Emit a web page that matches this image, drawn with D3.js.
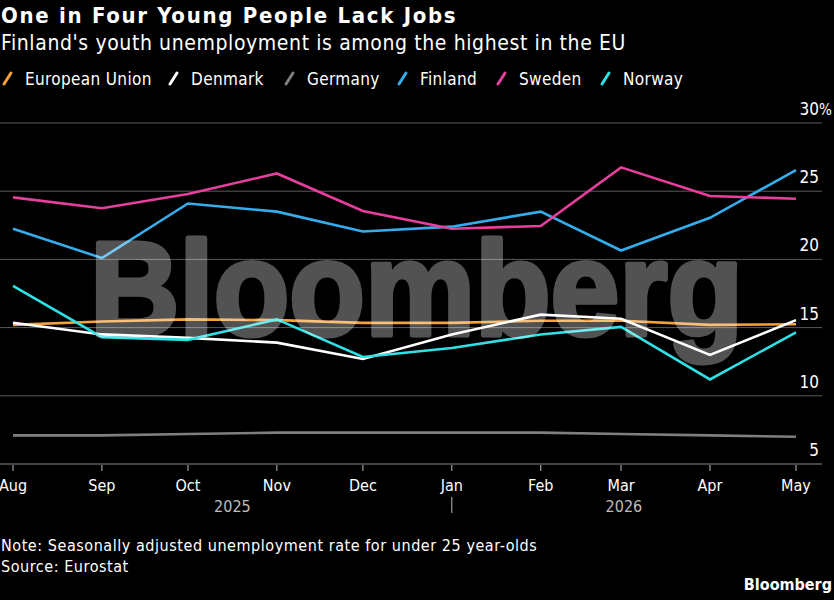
<!DOCTYPE html>
<html>
<head>
<meta charset="utf-8">
<script src="https://cdn.jsdelivr.net/npm/d3@7.9.0/dist/d3.min.js"></script>
<style>
  html, body { margin: 0; padding: 0; background: #000; }
  svg { display: block; }
  text { font-family: "DejaVu Sans Condensed", "Liberation Sans Narrow", "Roboto Condensed", sans-serif; fill: #fff; }
</style>
</head>
<body>
<svg id="chart" width="834" height="600"></svg>
<script>
const months = ["2025-08-01", "2025-09-01", "2025-10-01", "2025-11-01", "2025-12-01",
  "2026-01-01", "2026-02-01", "2026-03-01", "2026-04-01", "2026-05-01"];
const monthLabels = ["Aug", "Sep", "Oct", "Nov", "Dec", "Jan", "Feb", "Mar", "Apr", "May"];

const euValues      = [15.2, 15.45, 15.6, 15.55, 15.35, 15.35, 15.5, 15.5, 15.2, 15.25];
const denmarkValues = [15.35, 14.5, 14.25, 13.9, 12.7, 14.5, 15.95, 15.65, 13.0, 15.55];
const germanyValues = [7.1, 7.1, 7.2, 7.3, 7.3, 7.3, 7.3, 7.2, 7.1, 7.0];
const finlandValues = [22.25, 20.1, 24.1, 23.5, 22.05, 22.4, 23.5, 20.65, 23.05, 26.55];
const swedenValues  = [24.55, 23.75, 24.8, 26.3, 23.55, 22.25, 22.45, 26.75, 24.65, 24.45];
const norwayValues  = [18.05, 14.3, 14.1, 15.6, 12.85, 13.5, 14.5, 15.05, 11.2, 14.65];

const seriesNames = ["European Union", "Denmark", "Germany", "Finland", "Sweden", "Norway"];
const seriesColors = ["#f5a13c", "#ffffff", "#7f7f7f", "#35aded", "#e83f9e", "#2fe0e6"];
const yTicks = [5, 10, 15, 20, 25, 30];

const parse = d3.timeParse("%Y-%m-%d");
const dates = months.map(parse);
const allValues = [euValues, denmarkValues, germanyValues, finlandValues, swedenValues, norwayValues];
const series = seriesNames.map((name, i) => ({
  name,
  color: seriesColors[i],
  points: dates.map((d, j) => ({ date: d, value: allValues[i][j] }))
}));

const svg = d3.select("#chart");

const x = d3.scaleTime().domain(d3.extent(dates)).range([13, 796]);
const y = d3.scaleLinear().domain([5, 30]).range([464, 123]);

// titles
svg.append("text").attr("x", 1).attr("y", 23)
  .style("font-size", "22px").style("font-weight", "bold").style("letter-spacing", "1.7px")
  .text("One in Four Young People Lack Jobs");
svg.append("text").attr("x", 1).attr("y", 50)
  .style("font-size", "21px").style("letter-spacing", "0.6px")
  .text("Finland's youth unemployment is among the highest in the EU");

// legend
const legendX = [3, 169, 285, 398, 497, 601];
const legend = svg.append("g");
series.forEach((s, i) => {
  const g = legend.append("g").attr("transform", `translate(${legendX[i]},0)`);
  g.append("line").attr("x1", 1).attr("y1", 84).attr("x2", 8).attr("y2", 73)
    .attr("stroke", s.color).attr("stroke-width", 3).attr("stroke-linecap", "round");
  g.append("text").attr("x", 22).attr("y", 85).style("font-size", "17px")
    .style("letter-spacing", "0.35px").text(s.name);
});

// gridlines + y labels
const grid = svg.append("g");
yTicks.forEach(t => {
  grid.append("line").attr("x1", 0).attr("x2", 822).attr("y1", y(t)).attr("y2", y(t))
    .attr("stroke", t === 5 ? "#8a8a8a" : "#5a5a5a").attr("stroke-width", 1);
  grid.append("text").attr("x", 819).attr("y", y(t) - 8)
    .attr("text-anchor", "end").style("font-size", "17px").text(t);
  if (t === 30) {
    grid.append("text").attr("x", 819).attr("y", y(t) - 8)
      .style("font-size", "15px").text("%");
  }
});

// x axis
const xAxis = svg.append("g");
dates.forEach((d, i) => {
  xAxis.append("line").attr("x1", x(d)).attr("x2", x(d)).attr("y1", 465).attr("y2", 471)
    .attr("stroke", "#bbb").attr("stroke-width", 1);
  xAxis.append("text").attr("x", x(d)).attr("y", 491).attr("text-anchor", "middle")
    .style("font-size", "16px").text(monthLabels[i]);
});
const yearStart = parse("2025-08-01"), yearBreak = parse("2026-01-01"), yearEnd = parse("2026-05-01");
xAxis.append("text").attr("x", (x(yearStart) + x(yearBreak)) / 2).attr("y", 512)
  .attr("text-anchor", "middle").style("font-size", "16px").style("fill", "#bdbdbd").text("2025");
xAxis.append("text").attr("x", (x(yearBreak) + x(yearEnd)) / 2).attr("y", 512)
  .attr("text-anchor", "middle").style("font-size", "16px").style("fill", "#bdbdbd").text("2026");
xAxis.append("line").attr("x1", x(yearBreak)).attr("x2", x(yearBreak)).attr("y1", 497).attr("y2", 513)
  .attr("stroke", "#bdbdbd").attr("stroke-width", 1);

// lines
const line = d3.line().x(d => x(d.date)).y(d => y(d.value));
const drawOrder = [2, 0, 1, 5, 3, 4];
svg.append("g").selectAll("path")
  .data(drawOrder.map(i => series[i]))
  .join("path")
  .attr("d", d => line(d.points))
  .attr("fill", "none")
  .attr("stroke", d => d.color)
  .attr("stroke-width", 2.6)
  .attr("stroke-linejoin", "miter");

// watermark (group opacity so fill + stroke don't double up)
svg.append("g").attr("opacity", 0.32)
  .append("text").attr("x", 90).attr("y", 335)
  .attr("textLength", 653).attr("lengthAdjust", "spacingAndGlyphs")
  .style("font-family", "'Liberation Sans', Arial, sans-serif")
  .style("font-weight", "bold").style("font-size", "133px")
  .style("fill", "#ffffff").style("stroke", "#ffffff").style("stroke-width", 5)
  .style("stroke-linejoin", "round")
  .text("Bloomberg");

// footer
svg.append("text").attr("x", 1).attr("y", 551).style("font-size", "16px").style("letter-spacing", "0.55px")
  .text("Note: Seasonally adjusted unemployment rate for under 25 year-olds");
svg.append("text").attr("x", 1).attr("y", 572).style("font-size", "16px").style("letter-spacing", "0.55px")
  .text("Source: Eurostat");
svg.append("text").attr("x", 832).attr("y", 590).attr("text-anchor", "end")
  .style("font-size", "16px").style("font-weight", "bold").text("Bloomberg");
</script>
</body>
</html>
